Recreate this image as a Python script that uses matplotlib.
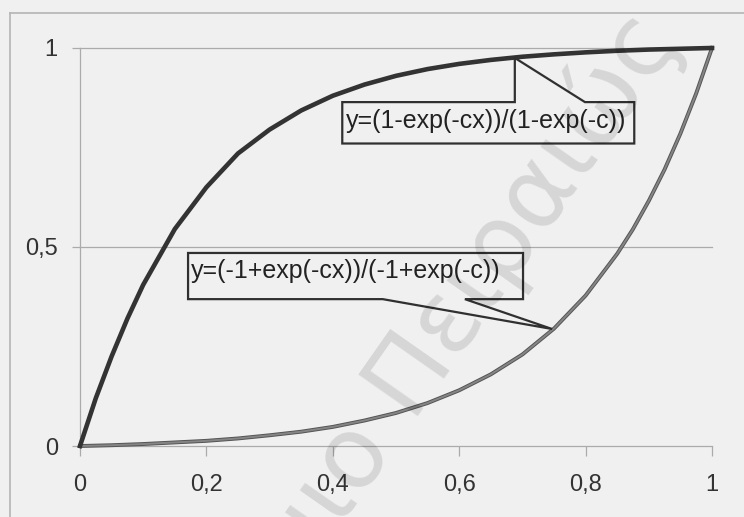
import matplotlib
matplotlib.use("Agg")
import matplotlib.pyplot as plt
from matplotlib.patches import Polygon
from matplotlib.lines import Line2D

# values
upper_x = [0, 0.025, 0.05, 0.075, 0.1, 0.15, 0.2, 0.25, 0.3, 0.35, 0.4, 0.45,
           0.5, 0.55, 0.6, 0.65, 0.7, 0.75, 0.8, 0.85, 0.9, 0.95, 1.0]
upper_y = [0, 0.12, 0.225, 0.32, 0.405, 0.545, 0.65, 0.735, 0.795, 0.843, 0.88, 0.908,
           0.93, 0.947, 0.96, 0.97, 0.978, 0.984, 0.989, 0.993, 0.996, 0.998, 1.0]

lower_x = [0, 0.05, 0.1, 0.15, 0.2, 0.25, 0.3, 0.35, 0.4, 0.45, 0.5, 0.55, 0.6,
           0.65, 0.7, 0.75, 0.8, 0.85, 0.875, 0.9, 0.925, 0.95, 0.975, 1.0]
lower_y = [0, 0.002, 0.005, 0.009, 0.013, 0.019, 0.027, 0.036, 0.048, 0.064, 0.083,
           0.108, 0.14, 0.18, 0.23, 0.295, 0.378, 0.483, 0.545, 0.616, 0.695, 0.785,
           0.886, 1.0]

x_ticks = [0, 0.2, 0.4, 0.6, 0.8, 1]
x_labels = ["0", "0,2", "0,4", "0,6", "0,8", "1"]
y_ticks = [0, 0.5, 1]
y_labels = ["0", "0,5", "1"]

upper_label = "y=(1-exp(-cx))/(1-exp(-c))"
lower_label = "y=(-1+exp(-cx))/(-1+exp(-c))"
watermark = "Πανεπιστήμιο Πειραιώς"

BG = "#f0f0f0"
GRID = "#ababab"
FONT = "Liberation Sans"

fig = plt.figure(figsize=(7.44, 5.17), dpi=100, facecolor=BG)
ax = fig.add_axes([0.1075, 0.1373, 0.8495, 0.7699])
ax.set_facecolor(BG)

# outer chart border (partly cropped in the scan)
fig.add_artist(Line2D([10 / 744, 10 / 744], [0, 1 - 13 / 517], color="#b5b5b5", lw=1.2))
fig.add_artist(Line2D([10 / 744, 1], [1 - 13 / 517, 1 - 13 / 517], color="#b5b5b5", lw=1.2))

ax.set_xlim(0, 1)
ax.set_ylim(0, 1)
for s in ["top", "right", "bottom"]:
    ax.spines[s].set_visible(False)
ax.spines["left"].set_color(GRID)
ax.spines["left"].set_linewidth(0.9)

for yv in y_ticks:
    ax.axhline(yv, color=GRID, lw=0.9, zorder=1, clip_on=False)

ax.set_xticks(x_ticks)
ax.set_xticklabels(x_labels)
ax.set_yticks(y_ticks)
ax.set_yticklabels(y_labels)
ax.tick_params(axis="x", length=7, width=0.9, color=GRID, pad=13,
               labelsize=17, labelcolor="#333333")
ax.tick_params(axis="y", length=6, width=0.9, color=GRID, pad=10,
               labelsize=17, labelcolor="#333333")
for lab in ax.get_xticklabels() + ax.get_yticklabels():
    lab.set_fontfamily(FONT)

# curves
ax.plot(upper_x, upper_y, color="#333333", lw=3.3, solid_joinstyle="miter",
        zorder=4, clip_on=False)
ax.plot(lower_x, lower_y, color="#555555", lw=2.8, zorder=3, clip_on=False)
ax.plot(lower_x, lower_y, color="#858585", lw=1.4, zorder=3, clip_on=False)


def callout(left, right, bottom, top, b1, b2, tip, on_top):
    if on_top:
        pts = [(left, bottom), (left, top), (b1, top), tip, (b2, top),
               (right, top), (right, bottom)]
    else:
        pts = [(left, top), (right, top), (right, bottom), (b2, bottom), tip,
               (b1, bottom), (left, bottom)]
    ax.add_patch(Polygon(pts, closed=True, facecolor="none", edgecolor="#303030",
                         lw=1.6, zorder=5, joinstyle="miter"))


callout(0.415, 0.877, 0.760, 0.864, 0.688, 0.799, (0.688, 0.975), True)
ax.text(0.420, 0.817, upper_label, fontsize=18, family=FONT, color="#222222",
        ha="left", va="center", zorder=6)

callout(0.171, 0.701, 0.369, 0.485, 0.479, 0.609, (0.747, 0.294), False)
ax.text(0.176, 0.44, lower_label, fontsize=18, family=FONT, color="#222222",
        ha="left", va="center", zorder=6)

# faint diagonal watermark of the scanned page
fig.text(682 / 744, 1 - 40 / 517, watermark, fontsize=72, family="DejaVu Sans",
         color="black", alpha=0.11, rotation=55, rotation_mode="anchor",
         ha="right", va="baseline", zorder=10, clip_on=True)

fig.savefig("out.png", dpi=100, facecolor=BG)
